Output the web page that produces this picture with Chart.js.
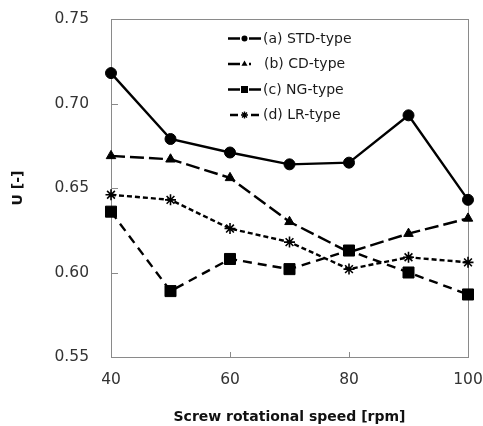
<!DOCTYPE html>
<html>
<head>
<meta charset="utf-8">
<script src="https://cdn.jsdelivr.net/npm/chart.js@4/dist/chart.umd.min.js"></script>
<style>
  body { margin: 0; background: #fff; }
</style>
</head>
<body>
<canvas id="chart" width="483" height="426"></canvas>
<script>
// data
const speeds = [40, 50, 60, 70, 80, 90, 100];
const stdType = [0.718, 0.679, 0.671, 0.664, 0.665, 0.693, 0.643];
const cdType  = [0.669, 0.667, 0.656, 0.630, 0.612, 0.623, 0.632];
const ngType  = [0.636, 0.589, 0.608, 0.602, 0.613, 0.600, 0.587];
const lrType  = [0.646, 0.643, 0.626, 0.618, 0.602, 0.609, 0.606];
const seriesNames = ["(a) STD-type", "(b) CD-type", "(c) NG-type", "(d) LR-type"];
const xTicks = [40, 60, 80, 100];
const yTicks = [0.55, 0.60, 0.65, 0.70, 0.75];

const FONT = "'DejaVu Sans', Verdana, sans-serif";
const toPoints = vals => vals.map((v, i) => ({ x: speeds[i], y: v }));

const styles = [
  { dash: [], point: "circle", r: 5.5 },
  { dash: [14, 5], point: "triangle", r: 5.5 },
  { dash: [9, 6], point: "rect", r: 7.8 },
  { dash: [5, 3], point: "star", r: 5.5 }
];

const datasets = [stdType, cdType, ngType, lrType].map((vals, i) => ({
  label: seriesNames[i],
  data: toPoints(vals),
  borderColor: "#000",
  backgroundColor: "#000",
  borderWidth: 2.4,
  borderDash: styles[i].dash,
  pointStyle: styles[i].point,
  pointRadius: styles[i].r,
  pointBorderWidth: i === 3 ? 1.6 : 1,
  pointBackgroundColor: "#000",
  pointBorderColor: "#000",
  tension: 0,
  clip: false
}));

// frame + inner tick marks
const framePlugin = {
  id: "frame",
  beforeDatasetsDraw(chart) {
    const { ctx, chartArea: a, scales } = chart;
    ctx.save();
    ctx.strokeStyle = "#8a8a8a";
    ctx.lineWidth = 1;
    ctx.strokeRect(a.left + 0.5, a.top + 0.5, a.right - a.left, a.bottom - a.top);
    ctx.beginPath();
    [60, 80].forEach(v => {
      const x = Math.round(scales.x.getPixelForValue(v)) + 0.5;
      ctx.moveTo(x, a.bottom);
      ctx.lineTo(x, a.bottom - 5);
    });
    [0.60, 0.65, 0.70].forEach(v => {
      const y = Math.round(scales.y.getPixelForValue(v)) + 0.5;
      ctx.moveTo(a.left, y);
      ctx.lineTo(a.left + 7, y);
    });
    ctx.stroke();
    ctx.restore();
  }
};

function marker(ctx, kind, x, y, r) {
  ctx.beginPath();
  if (kind === "circle") {
    ctx.arc(x, y, r, 0, Math.PI * 2);
    ctx.fill();
  } else if (kind === "triangle") {
    ctx.moveTo(x, y - r);
    ctx.lineTo(x + r * 0.87, y + r * 0.5);
    ctx.lineTo(x - r * 0.87, y + r * 0.5);
    ctx.closePath();
    ctx.fill();
  } else if (kind === "rect") {
    ctx.rect(x - r, y - r, 2 * r, 2 * r);
    ctx.fill();
  } else {
    ctx.lineWidth = 1.4;
    for (let k = 0; k < 4; k++) {
      const ang = k * Math.PI / 4;
      ctx.moveTo(x - r * Math.cos(ang), y - r * Math.sin(ang));
      ctx.lineTo(x + r * Math.cos(ang), y + r * Math.sin(ang));
    }
    ctx.stroke();
  }
}

// legend samples: short segment, marker, short segment
const legendSegs = [
  [[228, 240], [249, 261]],
  [[228, 240], [249, 251]],
  [[228, 240], [249, 261]],
  [[230, 238], [251, 259]]
];

const legendPlugin = {
  id: "innerLegend",
  afterDatasetsDraw(chart) {
    const ctx = chart.ctx;
    const sizes = [3, 3.5, 3.5, 3.5];
    ctx.save();
    seriesNames.forEach((name, i) => {
      const y = 38.5 + i * 25.5;
      ctx.strokeStyle = "#000";
      ctx.fillStyle = "#000";
      ctx.lineWidth = 2.4;
      ctx.beginPath();
      legendSegs[i].forEach(([a, b]) => {
        ctx.moveTo(a, y);
        ctx.lineTo(b, y);
      });
      ctx.stroke();
      marker(ctx, styles[i].point, 244.5, y, sizes[i]);
      ctx.fillStyle = "#1a1a1a";
      ctx.font = "14px " + FONT;
      ctx.textBaseline = "middle";
      ctx.textAlign = "left";
      ctx.fillText(name, i === 1 ? 264 : 263, y + 0.5);
    });
    ctx.restore();
  }
};

new Chart(document.getElementById("chart"), {
  type: "line",
  data: { datasets },
  options: {
    responsive: false,
    animation: false,
    layout: { padding: { left: 0, right: 15, top: 19, bottom: 0 } },
    plugins: { legend: { display: false }, tooltip: { enabled: false } },
    scales: {
      x: {
        type: "linear",
        min: 40,
        max: 100,
        afterBuildTicks: s => { s.ticks = xTicks.map(v => ({ value: v })); },
        afterFit: s => { s.height = 69; s.paddingLeft = 0; s.paddingRight = 0; },
        grid: { display: false, drawTicks: false },
        border: { display: false },
        ticks: { color: "#333", padding: 14, font: { family: FONT, size: 15.5 } },
        title: {
          display: true,
          text: "Screw rotational speed [rpm]",
          color: "#111",
          padding: { top: 0, bottom: 0 },
          font: { family: FONT, size: 14, weight: "bold" }
        }
      },
      y: {
        min: 0.55,
        max: 0.75,
        afterBuildTicks: s => { s.ticks = yTicks.map(v => ({ value: v })); },
        afterFit: s => { s.width = 111; s.paddingTop = 0; s.paddingBottom = 0; },
        grid: { display: false, drawTicks: false },
        border: { display: false },
        ticks: {
          color: "#333",
          padding: 22,
          font: { family: FONT, size: 15.5 },
          callback: v => v.toFixed(2)
        },
        title: {
          display: true,
          text: "U [-]",
          color: "#111",
          padding: { top: 10, bottom: 0 },
          font: { family: FONT, size: 14, weight: "bold" }
        }
      }
    }
  },
  plugins: [framePlugin, legendPlugin]
});
</script>
</body>
</html>
